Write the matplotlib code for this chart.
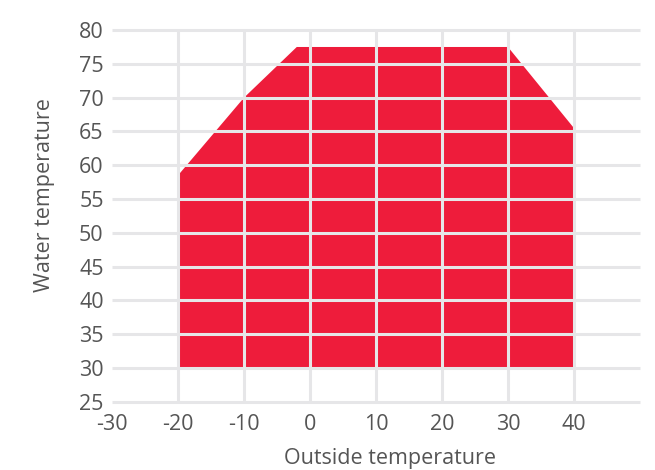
import matplotlib
matplotlib.use("Agg")
import matplotlib.pyplot as plt

plt.rcParams['font.family'] = ['Open Sans', 'DejaVu Sans']
plt.rcParams['axes.unicode_minus'] = False

# operating envelope (outside temp, water temp)
outside_temp = [-20, -20, -10, -2, 30, 40, 40]
water_temp = [30, 58.5, 70, 77.5, 77.5, 65.5, 30]

x_ticks = [-30, -20, -10, 0, 10, 20, 30, 40]
y_ticks = [25, 30, 35, 40, 45, 50, 55, 60, 65, 70, 75, 80]
x_grid = [-20, -10, 0, 10, 20, 30, 40]

fig = plt.figure(figsize=(6.55, 4.7), dpi=100)
ax = fig.add_axes([0.171, 0.145, 0.806, 0.791])

ax.fill(outside_temp, water_temp, color='#EE1C3B', linewidth=0, zorder=1)

grid_col = '#E6E6E8'
ax.hlines(y_ticks, -30, 50, colors=grid_col, linewidth=2.2, zorder=2, clip_on=False)
ax.vlines(x_grid, 25, 80, colors=grid_col, linewidth=2.2, zorder=2, clip_on=False)

ax.set_xlim(-30, 50)
ax.set_ylim(25, 80)
ax.set_xticks(x_ticks)
ax.set_yticks(y_ticks)
for s in ax.spines.values():
    s.set_visible(False)
ax.tick_params(length=0, labelsize=15.5, colors='#555555')
ax.tick_params(axis='x', pad=9)
ax.tick_params(axis='y', pad=6)

ax.set_xlabel('Outside temperature', fontsize=15.5, color='#555555')
ax.set_ylabel('Water temperature', fontsize=15.5, color='#555555')
ax.xaxis.set_label_coords(0.527, -0.123)
ax.yaxis.set_label_coords(-0.108, 0.556)

fig.savefig('out.png', dpi=100)
